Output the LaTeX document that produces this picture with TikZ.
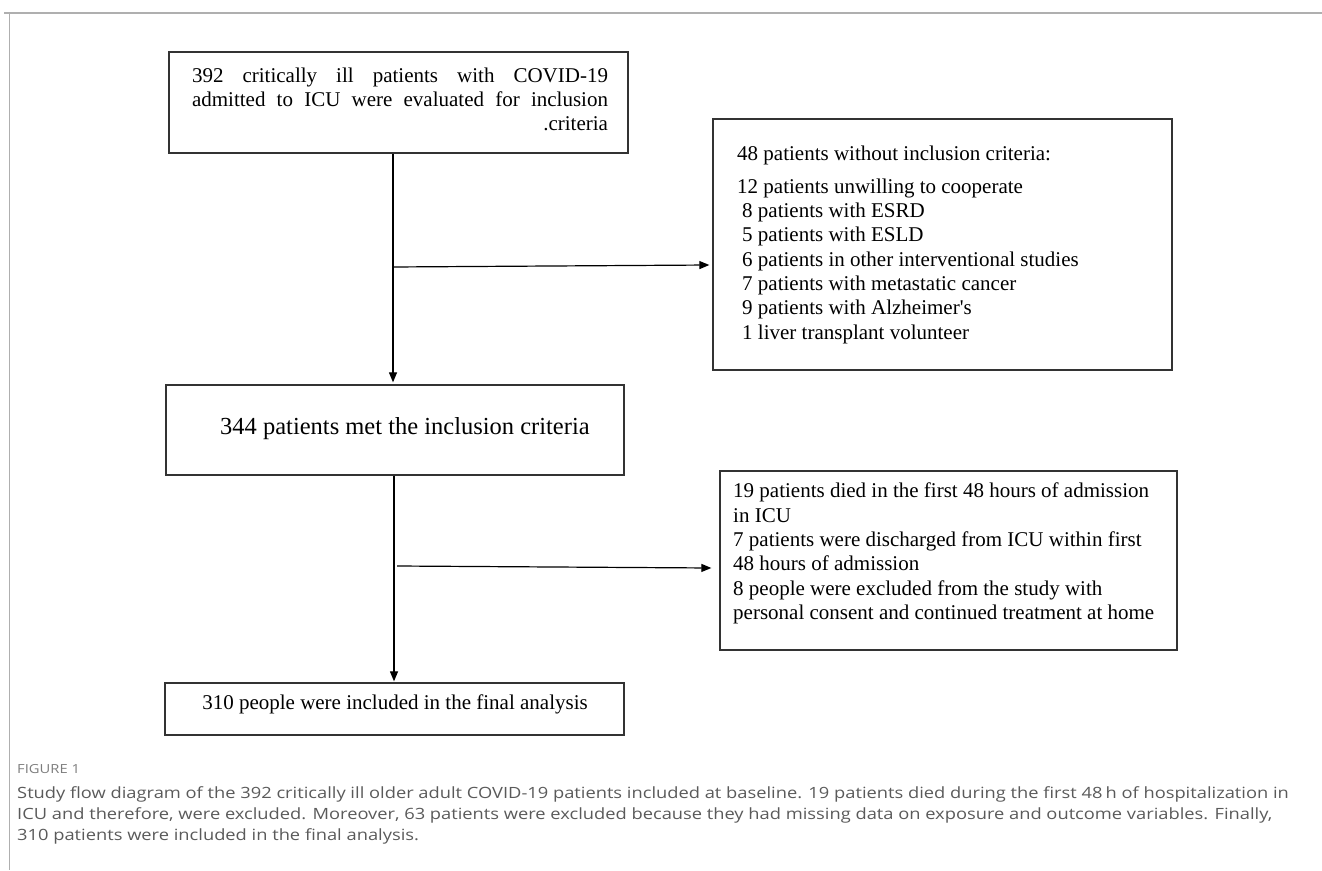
\documentclass[tikz,border=0pt]{standalone}
\usepackage{fontspec}
\setmainfont{Liberation Serif}
\newfontfamily\capfont{Open Sans}
\usetikzlibrary{arrows.meta}
\usetikzlibrary{calc}
\definecolor{frameGray}{RGB}{175,175,175}
\definecolor{capGray}{RGB}{90,90,90}
\definecolor{labelGray}{RGB}{125,125,125}

\begin{document}
\begin{tikzpicture}[x=1pt,y=-1pt,
  box/.style={draw=black!80, line width=1.3pt, inner sep=0pt},
  txt/.style={inner sep=0pt, font=\fontsize{21}{24.3}\selectfont, align=left},
  flow/.style={line width=1.2pt, -{Triangle[length=10pt,width=8pt]}}]
\useasboundingbox (0,0) rectangle (1322,870);
\draw [frameGray, line width=2pt] (4,13) -- (1322,13);
\draw [frameGray, line width=0.8pt] (9,13) -- (9,870);

\node [box, minimum width=459, minimum height=101] (screened) at (398.5,102.5) {};
\node [txt, text width=416pt, align=justify] (screenedtext) at (400,99.5)
  {392 critically ill patients with COVID-19\linebreak admitted to ICU were evaluated for inclusion\linebreak \mbox{}\hskip 0pt plus 1filll.criteria};

\node [box, minimum width=459, minimum height=251] (excluded) at (942.5,244.5) {};
\node [txt, anchor=north west] (excludedtext) at (737,146)
  {48 patients without inclusion criteria:\\[8.2pt]
   12 patients unwilling to cooperate\\
   \hspace{5pt}8 patients with ESRD\\
   \hspace{5pt}5 patients with ESLD\\
   \hspace{5pt}6 patients in other interventional studies\\
   \hspace{5pt}7 patients with metastatic cancer\\
   \hspace{5pt}9 patients with Alzheimer\textquotesingle s\\
   \hspace{5pt}1 liver transplant volunteer};

\node [box, minimum width=458, minimum height=90] (included) at (395,430) {};
\node [txt, anchor=west, font=\fontsize{24.5}{28}\selectfont] (includedtext) at (220,429)
  {344 patients met the inclusion criteria};

\node [box, minimum width=457, minimum height=179] (dropped) at (948.5,560.5) {};
\node [txt, anchor=north west] (droppedtext) at (733,483)
  {19 patients died in the first 48 hours of admission\\
   in ICU\\
   7 patients were discharged from ICU within first\\
   48 hours of admission\\
   8 people were excluded from the study with\\
   personal consent and continued treatment at home};

\node [box, minimum width=459, minimum height=52] (final) at (394.5,709) {};
\node [txt] (finaltext) at (395,704) {310 people were included in the final analysis};

\coordinate (trunk1) at (393,0);
\coordinate (trunk2) at (394,0);
\coordinate (split1) at (392,267);
\coordinate (split2) at (397,566);
\draw [flow, shorten >=2pt] (screened.south -| trunk1) -- (included.north -| trunk1);
\draw [flow] (split1) -- ($(excluded.west)+(-3,20.5)$);
\draw [flow, shorten >=1pt] (included.south -| trunk2) -- (final.north -| trunk2);
\draw [flow] (split2) -- ($(dropped.west)+(-8,7.5)$);

\node [anchor=base west, inner sep=0pt, xscale=1.18, transform shape, font=\capfont\fontsize{12.5}{14}\selectfont, text=labelGray] (figlabel) at (17,773) {FIGURE 1};
\node [anchor=north west, inner sep=0pt, align=left, xscale=1.18, transform shape, font=\capfont\fontsize{15.5}{21.2}\selectfont, text=capGray] (caption) at (17,786)
  {Study flow diagram of the 392 critically ill older adult COVID-19 patients included at baseline. 19 patients died during the first 48\,h of hospitalization in\\
   ICU and therefore, were excluded. Moreover, 63 patients were excluded because they had missing data on exposure and outcome variables. Finally,\\
   310 patients were included in the final analysis.};
\end{tikzpicture}
\end{document}
